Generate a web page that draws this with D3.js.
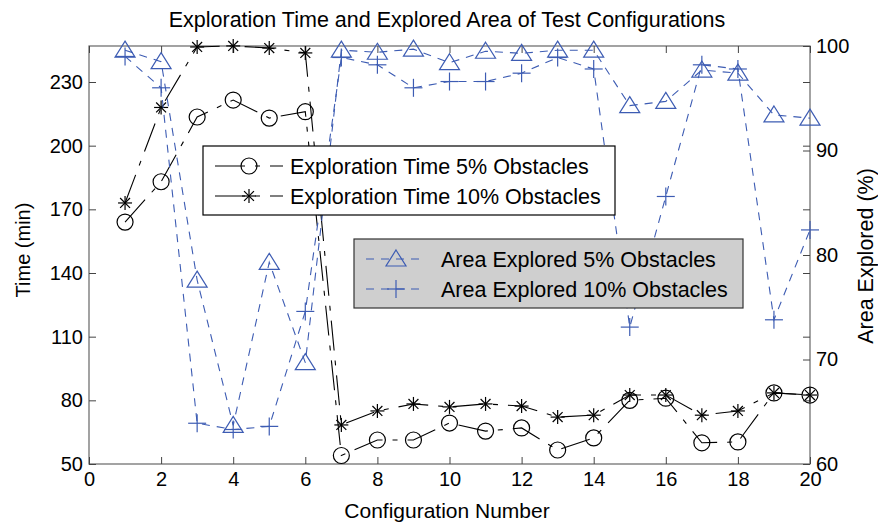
<!DOCTYPE html>
<html lang="en">
<head>
<meta charset="utf-8">
<script src="https://d3js.org/d3.v7.min.js"></script>
<style>
  body { margin: 0; background: #fff; }
  text { font-family: "Liberation Sans", Arial, sans-serif; fill: #000; }
</style>
</head>
<body>
<script>
    var width = 878,
      height = 523;

    // data
    var configs = [1,2,3,4,5,6,7,8,9,10,11,12,13,14,15,16,17,18,19,20];
    var time5 = [164,183,213.5,221.5,213,216,54,61.3,61.3,69.3,65.5,67,56.6,62.3,80,81,60,60.4,83.5,82.5];
    var time10 = [173,218,246.5,247,246,243.7,68.4,75,78.3,76.9,78.3,77.3,72.1,73,82.5,82.5,73,75,83.5,82.5];
    var area5 = [99.6,98.5,77.6,63.7,79.3,69.7,99.6,99.4,99.7,98.4,99.5,99.3,99.6,99.6,94.3,94.7,97.7,97.4,93.4,93.1];
    var area10 = [99.0,96.0,63.9,63.3,63.6,74.6,98.9,98.2,96.0,96.6,96.6,97.4,98.9,97.8,73.1,85.6,98.2,97.8,73.8,82.4];
    var xTicks = [0,2,4,6,8,10,12,14,16,18,20];
    var leftTicks = [50,80,110,140,170,200,230];
    var rightTicks = [60,70,80,90,100];

    var pLeft = 89, pRight = 810, pTop = 46, pBottom = 464;
    var blue = '#3d5cb3';

    var svg = d3.select('body').append('svg')
      .attr('width', width).attr('height', height);

    var x = d3.scaleLinear().domain([0, 20]).range([pLeft, pRight]);
    var yL = d3.scaleLinear().domain([50, 50 + (pBottom - pTop) * 180 / 382]).range([pBottom, pTop]);
    var yR = d3.scaleLinear().domain([60, 100]).range([pBottom, pTop]);

    // frame
    svg.append('rect')
      .attr('x', pLeft).attr('y', pTop)
      .attr('width', pRight - pLeft).attr('height', pBottom - pTop)
      .attr('fill', 'none').attr('stroke', '#666').attr('stroke-width', 1.2);

    // axes with inner ticks
    function styleAxis(g) {
      g.select('.domain').remove();
      g.selectAll('line').attr('stroke', '#444');
      g.selectAll('text').style('font-size', '20px').style('font-family', '"Liberation Sans", Arial, sans-serif');
    }
    svg.append('g').attr('transform', 'translate(0,' + pBottom + ')')
      .call(d3.axisTop(x).tickValues(xTicks).tickSize(7).tickFormat(''))
      .call(styleAxis);
    svg.append('g').attr('transform', 'translate(0,' + pBottom + ')')
      .call(d3.axisBottom(x).tickValues(xTicks).tickSize(0).tickPadding(8).tickFormat(d3.format('d')))
      .call(styleAxis);
    svg.append('g').attr('transform', 'translate(0,' + pTop + ')')
      .call(d3.axisBottom(x).tickValues(xTicks).tickSize(7).tickFormat(''))
      .call(styleAxis);
    svg.append('g').attr('transform', 'translate(' + pLeft + ',0)')
      .call(d3.axisRight(yL).tickValues(leftTicks).tickSize(7).tickFormat(''))
      .call(styleAxis);
    svg.append('g').attr('transform', 'translate(' + pLeft + ',0)')
      .call(d3.axisLeft(yL).tickValues(leftTicks).tickSize(0).tickPadding(6))
      .call(styleAxis);
    svg.append('g').attr('transform', 'translate(' + pRight + ',0)')
      .call(d3.axisLeft(yL).tickValues(leftTicks).tickSize(7).tickFormat(''))
      .call(styleAxis);
    svg.append('g').attr('transform', 'translate(' + pRight + ',0)')
      .call(d3.axisLeft(yR).tickValues(rightTicks).tickSize(7).tickFormat(''))
      .call(styleAxis);
    svg.append('g').attr('transform', 'translate(' + pRight + ',0)')
      .call(d3.axisRight(yR).tickValues(rightTicks).tickSize(0).tickPadding(6))
      .call(styleAxis);

    // labels
    svg.append('text').attr('x', 447).attr('y', 27).attr('text-anchor', 'middle')
      .style('font-size', '21.5px').text('Exploration Time and Explored Area of Test Configurations');
    svg.append('text').attr('x', 447).attr('y', 518).attr('text-anchor', 'middle')
      .style('font-size', '21px').text('Configuration Number');
    svg.append('text').attr('transform', 'translate(30,250) rotate(-90)').attr('text-anchor', 'middle')
      .style('font-size', '20px').text('Time (min)');
    svg.append('text').attr('transform', 'translate(873,256) rotate(-90)').attr('text-anchor', 'middle')
      .style('font-size', '21.5px').text('Area Explored (%)');

    // markers
    function marker(g, kind, color, cx, cy) {
      if (kind === 'circle') {
        g.append('circle').attr('cx', cx).attr('cy', cy).attr('r', 8)
          .attr('fill', 'none').attr('stroke', color).attr('stroke-width', 1.2);
      } else if (kind === 'star') {
        [0, 45, 90, 135].forEach(function(a) {
          var r = 7, t = a * Math.PI / 180;
          g.append('line')
            .attr('x1', cx - r * Math.cos(t)).attr('y1', cy - r * Math.sin(t))
            .attr('x2', cx + r * Math.cos(t)).attr('y2', cy + r * Math.sin(t))
            .attr('stroke', color).attr('stroke-width', 1.2);
        });
      } else if (kind === 'tri') {
        g.append('path')
          .attr('d', 'M' + cx + ',' + (cy - 9) + 'L' + (cx + 10) + ',' + (cy + 7) + 'L' + (cx - 10) + ',' + (cy + 7) + 'Z')
          .attr('fill', 'none').attr('stroke', color).attr('stroke-width', 1.2);
      } else if (kind === 'plus') {
        g.append('line').attr('x1', cx - 9).attr('x2', cx + 9).attr('y1', cy).attr('y2', cy)
          .attr('stroke', color).attr('stroke-width', 1.2);
        g.append('line').attr('x1', cx).attr('x2', cx).attr('y1', cy - 9).attr('y2', cy + 9)
          .attr('stroke', color).attr('stroke-width', 1.2);
      }
    }

    var series = [
      { name: 'Exploration Time 5% Obstacles', vals: time5, y: yL, color: '#000', dash: '30,10,5,10', kind: 'circle' },
      { name: 'Exploration Time 10% Obstacles', vals: time10, y: yL, color: '#000', dash: '30,10,5,10', kind: 'star' },
      { name: 'Area Explored 5% Obstacles', vals: area5, y: yR, color: blue, dash: '8,7', kind: 'tri' },
      { name: 'Area Explored 10% Obstacles', vals: area10, y: yR, color: blue, dash: '8,7', kind: 'plus' }
    ];

    series.forEach(function(s) {
      var line = d3.line()
        .x(function(d, i) { return x(configs[i]); })
        .y(function(d) { return s.y(d); });
      svg.append('path').datum(s.vals).attr('d', line)
        .attr('fill', 'none').attr('stroke', s.color).attr('stroke-width', 1.1)
        .attr('stroke-dasharray', s.dash);
      var g = svg.append('g');
      s.vals.forEach(function(v, i) { marker(g, s.kind, s.color, x(configs[i]), s.y(v)); });
    });

    // legends
    function legend(items, bx, by, bw, bh, fill, stroke, sample) {
      var g = svg.append('g');
      g.append('rect').attr('x', bx).attr('y', by).attr('width', bw).attr('height', bh)
        .attr('fill', fill).attr('stroke', stroke).attr('stroke-width', 1.2);
      items.forEach(function(s, i) {
        var ly = by + 20 + i * 30;
        g.append('line').attr('x1', bx + 12).attr('x2', bx + 12 + sample).attr('y1', ly).attr('y2', ly)
          .attr('stroke', s.color).attr('stroke-width', 1.1).attr('stroke-dasharray', s.dash);
        marker(g, s.kind, s.color, bx + 12 + sample / 2, ly);
        g.append('text').attr('x', bx + 87).attr('y', ly + 8)
          .style('font-size', '21.5px').text(s.name);
      });
    }
    legend(series.slice(0, 2), 203, 146, 412, 69, '#fff', '#000', 68);
    legend(series.slice(2, 4), 354, 239, 389, 69, '#cfcfcf', '#333', 60);
</script>
</body>
</html>
